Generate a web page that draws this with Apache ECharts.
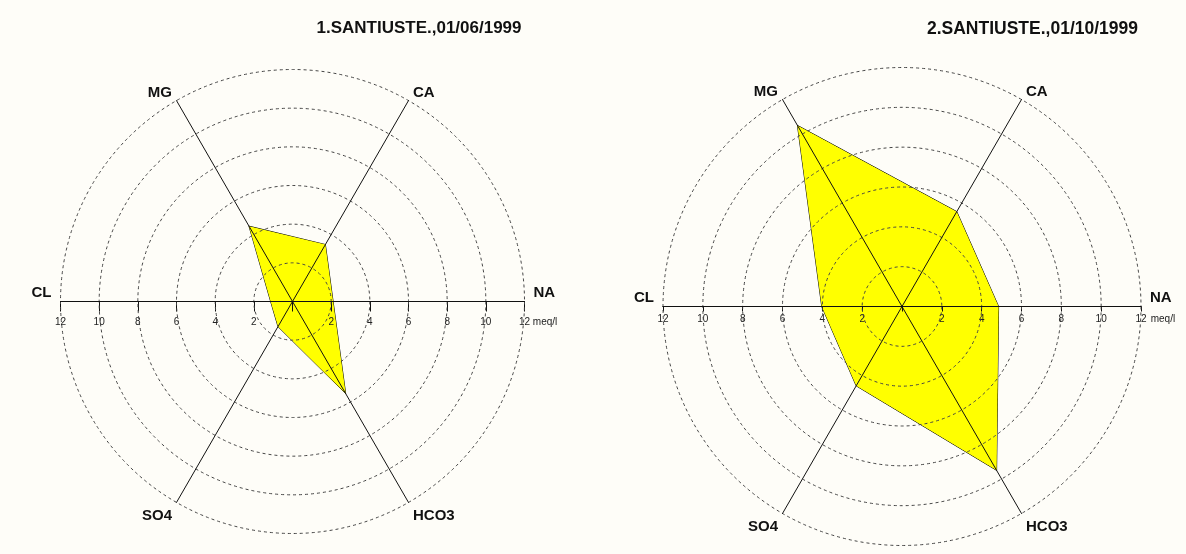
<!DOCTYPE html>
<html>
<head>
<meta charset="utf-8">
<script src="https://cdn.jsdelivr.net/npm/echarts@6/dist/echarts.min.js"></script>
<style>
html,body{margin:0;padding:0;background:#fefdf8;}
#c{width:1186px;height:554px;}
</style>
</head>
<body>
<div id="c"></div>
<script>
// ---- data ----
const indicators = ['NA', 'CA', 'MG', 'CL', 'SO4', 'HCO3'];   // counter-clockwise from the right
const titles = ['1.SANTIUSTE.,01/06/1999', '2.SANTIUSTE.,01/10/1999'];
const sample1 = [2.1, 3.4, 4.5, 1.13, 1.5, 5.5];      // meq/l
const sample2 = [4.85, 5.5, 10.5, 4.03, 4.6, 9.5];    // meq/l
const axisMax = 12;
const tickStep = 2;
const unitLabel = 'meq/l';

// ---- layout (positions/styles only) ----
const panels = [
  {cx: 292.5, cy: 301.5, r: 232, titleX: 419, titleSize: 17, tickLen: 10, labMargin: 16, unitSep: '', gap: 9},
  {cx: 902, cy: 306.5, r: 239, titleX: 1032.5, titleSize: 17.5, tickLen: 5, labMargin: 8, unitSep: ' ', gap: 9}
];
const samples = [sample1, sample2];

const nameRich = {
  side: {padding: [0, 0, 17, 0]},
  top: {padding: [0, 0, 0, 0]},
  bot: {padding: [12, 0, 0, 0]}
};
function nameKey(n) {
  if (n === 'NA' || n === 'CL') return 'side';
  if (n === 'SO4' || n === 'HCO3') return 'bot';
  return 'top';
}

const option = {
  backgroundColor: '#fefdf8',
  animation: false,
  title: panels.map((p, i) => ({
    text: titles[i],
    left: p.titleX,
    top: 20,
    textAlign: 'center',
    padding: 0,
    textStyle: {fontFamily: 'Liberation Sans', fontWeight: 'bold', fontSize: p.titleSize, color: '#111'}
  })),
  radar: panels.map((p) => ({
    center: [p.cx, p.cy],
    radius: p.r,
    startAngle: 0,
    shape: 'circle',
    splitNumber: axisMax / tickStep,
    indicator: indicators.map(n => ({name: n, min: 0, max: axisMax})),
    nameGap: p.gap,
    axisName: {
      formatter: (n) => '{' + nameKey(n) + '|' + n + '}',
      rich: nameRich,
      color: '#111',
      fontFamily: 'Liberation Sans',
      fontWeight: 'bold',
      fontSize: 15
    },
    axisLine: {lineStyle: {color: '#111', width: 1}},
    splitLine: {lineStyle: {color: '#444', width: 1, type: [3, 3]}},
    splitArea: {show: false},
    axisTick: {show: false},
    axisLabel: {show: false},
    zlevel: 1,
    z: 3
  })),
  grid: panels.map((p) => ({
    left: p.cx - p.r,
    width: 2 * p.r,
    top: p.cy - 1,
    height: 1,
    containLabel: false,
    outerBoundsMode: 'none',
    zlevel: 1
  })),
  xAxis: panels.map((p, i) => ({
    type: 'value',
    gridIndex: i,
    position: 'bottom',
    zlevel: 1,
    min: -axisMax,
    max: axisMax,
    interval: tickStep,
    axisLine: {lineStyle: {color: '#111', width: 1}},
    axisTick: {show: true, length: p.tickLen, lineStyle: {color: '#111', width: 1}},
    splitLine: {show: false},
    axisLabel: {
      margin: p.labMargin,
      fontSize: 10,
      fontFamily: 'Liberation Sans',
      color: '#222',
      hideOverlap: false,
      showMinLabel: true,
      showMaxLabel: true,
      formatter: (v) => {
        if (v === 0) return '';
        if (v === axisMax) return '{pad|}{n|' + v + '}{u|' + p.unitSep + unitLabel + '}';
        return String(Math.abs(v));
      },
      rich: {
        pad: {width: 30},
        n: {},
        u: {width: 30, align: 'left'}
      }
    }
  })),
  yAxis: panels.map((p, i) => ({
    type: 'value', gridIndex: i, show: false, min: 0, max: 1, zlevel: 1
  })),
  series: panels.map((p, i) => ({
    type: 'radar',
    radarIndex: i,
    symbol: 'none',
    zlevel: 0,
    z: 1,
    lineStyle: {color: '#000', width: 1},
    areaStyle: {color: '#ffff00', opacity: 1},
    data: [{value: samples[i], name: titles[i]}]
  }))
};

const chart = echarts.init(document.getElementById('c'), null, {renderer: 'canvas'});
chart.setOption(option);
</script>
</body>
</html>
